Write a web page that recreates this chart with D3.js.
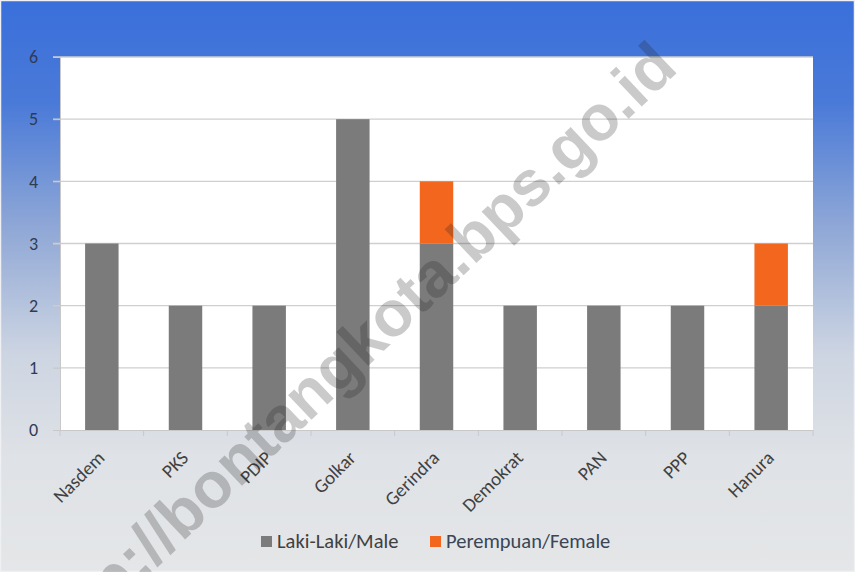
<!DOCTYPE html>
<html><head><meta charset="utf-8">
<script src="https://cdn.jsdelivr.net/npm/d3@7"></script>
<style>body{margin:0;padding:0;}svg{display:block;}</style>
</head><body>
<svg id="c" width="855" height="572"></svg>
<script>
const categories = ["Nasdem","PKS","PDIP","Golkar","Gerindra","Demokrat","PAN","PPP","Hanura"];
const male = [3,2,2,5,3,2,2,2,2];
const female = [0,0,0,0,1,0,0,0,1];
const seriesNames = ["Laki-Laki/Male","Perempuan/Female"];
const seriesColors = ["#7b7b7b","#f2661e"];
const yTicks = [0,1,2,3,4,5,6];

const W=855,H=572;
const m={l:60,r:42,t:57,b:142};
const FONT="Carlito, Calibri, Lato, 'Liberation Sans', sans-serif";
const svg=d3.select("#c");
const defs=svg.append("defs");
const g1=defs.append("linearGradient").attr("id","bg").attr("x1",0).attr("y1",0).attr("x2",0).attr("y2",1);
g1.append("stop").attr("offset","0%").attr("stop-color","#3a6fdb");
g1.append("stop").attr("offset","18%").attr("stop-color","#4a7ad8");
g1.append("stop").attr("offset","40%").attr("stop-color","#90a8d6");
g1.append("stop").attr("offset","62%").attr("stop-color","#cdd5e2");
g1.append("stop").attr("offset","80%").attr("stop-color","#dfe2e6");
g1.append("stop").attr("offset","100%").attr("stop-color","#e4e6e8");
svg.append("rect").attr("width",W).attr("height",H).attr("fill","url(#bg)");
svg.append("rect").attr("x",0.5).attr("y",0.5).attr("width",W-1).attr("height",H-1)
  .attr("fill","none").attr("stroke","#eef0f4").attr("stroke-width",1.5);

const x=d3.scaleBand().domain(categories).range([m.l,W-m.r]).paddingInner(0.6).paddingOuter(0.3);
const y=d3.scaleLinear().domain([0,6]).range([H-m.b,m.t]);

svg.append("rect").attr("x",m.l).attr("y",m.t).attr("width",W-m.r-m.l).attr("height",H-m.b-m.t).attr("fill","#ffffff");

// gridlines
svg.append("g").selectAll("line").data(yTicks.slice(1)).join("line")
  .attr("x1",m.l-7).attr("x2",W-m.r).attr("y1",d=>y(d)).attr("y2",d=>y(d))
  .attr("stroke","#cfcfcf").attr("stroke-width",1.3);

// stacked bars
const data=categories.map((c,i)=>({c,male:male[i],female:female[i]}));
const stack=d3.stack().keys(["male","female"])(data);
svg.append("g").selectAll("g").data(stack).join("g").attr("fill",(d,i)=>seriesColors[i])
  .selectAll("rect").data(d=>d).join("rect")
  .attr("x",d=>x(d.data.c)).attr("width",x.bandwidth())
  .attr("y",d=>y(d[1])).attr("height",d=>y(d[0])-y(d[1]));

// y axis
const ya=svg.append("g").attr("transform",`translate(${m.l},0)`)
  .call(d3.axisLeft(y).tickValues(yTicks).tickSize(7).tickPadding(15).tickFormat(d3.format("d")));
ya.select(".domain").attr("stroke","#c8c8c8");
ya.selectAll(".tick line").attr("stroke","#c8c8c8");
ya.selectAll("text").attr("fill","#2f3b55").attr("font-family",FONT).attr("font-size","18px");

// x axis
const xa=svg.append("g").attr("transform",`translate(0,${H-m.b})`)
  .call(d3.axisBottom(x).tickSize(0).tickFormat(""));
xa.select(".domain").attr("stroke","#c8c8c8");
svg.append("g").selectAll("line").data(d3.range(categories.length+1)).join("line")
  .attr("x1",i=>m.l+i*(W-m.r-m.l)/categories.length).attr("x2",i=>m.l+i*(W-m.r-m.l)/categories.length)
  .attr("y1",H-m.b).attr("y2",H-m.b+6).attr("stroke","#c8c8c8");
svg.append("g").selectAll("text").data(categories).join("text")
  .attr("transform",d=>`translate(${x(d)+x.bandwidth()/2+4},${H-m.b+29}) rotate(-45)`)
  .attr("text-anchor","end").attr("fill","#404040")
  .attr("font-family",FONT).attr("font-size","19px")
  .text(d=>d);

// legend
const lg=svg.append("g").attr("transform","translate(0,548)");
const items=[{n:seriesNames[0],c:seriesColors[0],x:261,t:"#404040"},{n:seriesNames[1],c:seriesColors[1],x:430,t:"#3a4555"}];
items.forEach(it=>{
  lg.append("rect").attr("x",it.x).attr("y",-12).attr("width",11).attr("height",11).attr("fill",it.c);
  lg.append("text").attr("x",it.x+16).attr("y",0).attr("fill",it.t)
    .attr("font-family",FONT).attr("font-size","20.5px").text(it.n);
});

// watermark
svg.append("text").attr("transform","translate(668,58) rotate(-43.5)")
  .attr("text-anchor","end").attr("dominant-baseline","middle")
  .attr("font-family","'Liberation Sans', Arial, sans-serif").attr("font-weight","bold").attr("font-size","64px")
  .attr("fill","#202020").attr("fill-opacity",0.24).text("http://bontangkota.bps.go.id");
</script>
</body></html>
